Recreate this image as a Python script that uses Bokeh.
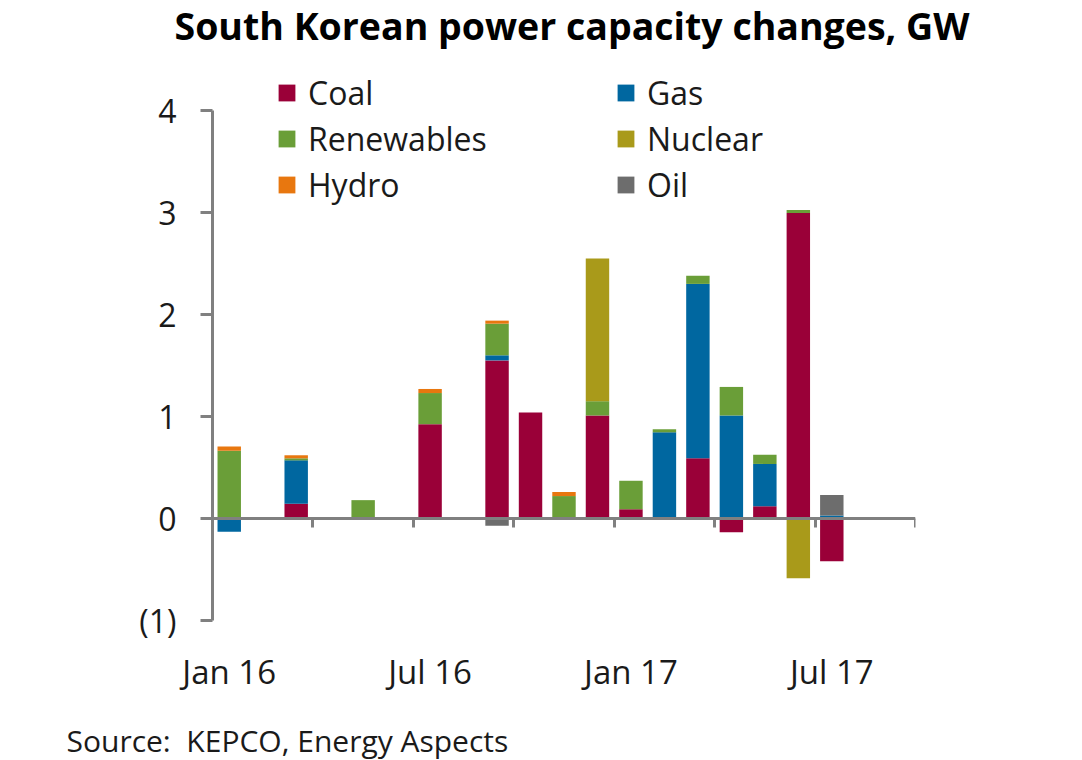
import numpy as np
from bokeh.plotting import figure
from bokeh.models import (LinearAxis, FixedTicker, Legend, LegendItem, Range1d,
                          Title, ColumnDataSource)
from bokeh.embed import file_html
from bokeh.resources import INLINE

# ---------------- data ----------------
months = ["Jan 16", "Feb 16", "Mar 16", "Apr 16", "May 16", "Jun 16", "Jul 16",
          "Aug 16", "Sep 16", "Oct 16", "Nov 16", "Dec 16", "Jan 17", "Feb 17",
          "Mar 17", "Apr 17", "May 17", "Jun 17", "Jul 17", "Aug 17", "Sep 17"]
tick_labels = ["Jan 16", "Jul 16", "Jan 17", "Jul 17"]
y_tick_values = [-1, 0, 1, 2, 3, 4]
y_tick_labels = ["(1)", "0", "1", "2", "3", "4"]

series = ["Coal", "Gas", "Renewables", "Nuclear", "Hydro", "Oil"]
coal       = [0.0, 0.0, 0.145, 0.0, 0.0, 0.0, 0.925, 0.0, 1.55, 1.04, 0.0, 1.01,
              0.09, 0.0, 0.59, -0.135, 0.12, 2.995, -0.42, 0.0, 0.0]
gas        = [-0.13, 0.0, 0.425, 0.0, 0.0, 0.0, 0.0, 0.0, 0.05, 0.0, 0.0, 0.0,
              0.0, 0.845, 1.71, 1.01, 0.415, 0.0, 0.03, 0.0, 0.0]
renewables = [0.665, 0.0, 0.02, 0.0, 0.18, 0.0, 0.305, 0.0, 0.31, 0.0, 0.22, 0.14,
              0.28, 0.03, 0.08, 0.28, 0.09, 0.03, 0.0, 0.0, 0.0]
nuclear    = [0.0, 0.0, 0.0, 0.0, 0.0, 0.0, 0.0, 0.0, 0.0, 0.0, 0.0, 1.40,
              0.0, 0.0, 0.0, 0.0, 0.0, -0.585, 0.0, 0.0, 0.0]
hydro      = [0.04, 0.0, 0.03, 0.0, 0.0, 0.0, 0.04, 0.0, 0.03, 0.0, 0.04, 0.0,
              0.0, 0.0, 0.0, 0.0, 0.0, 0.0, 0.0, 0.0, 0.0]
oil        = [0.0, 0.0, 0.0, 0.0, 0.0, 0.0, 0.0, 0.0, -0.07, 0.0, 0.0, 0.0,
              0.0, 0.0, 0.0, 0.0, 0.0, 0.0, 0.20, 0.0, 0.0]
colors = ["#9A0038", "#0067A0", "#6A9E38", "#A99A1A", "#E8770F", "#6D6D6D"]

FONT = "Open Sans"
AXIS_GREY = "#808080"
TEXT = "#1a1a1a"

# ---------------- stacking ----------------
vals = np.array([coal, gas, renewables, nuclear, hydro, oil])
x = np.arange(len(months))
pos = np.where(vals > 0, vals, 0.0)
neg = np.where(vals < 0, vals, 0.0)
pos_top = np.cumsum(pos, axis=0)
pos_bot = pos_top - pos
neg_end = np.cumsum(neg, axis=0)
neg_start = neg_end - neg

# ---------------- layout ----------------
FRAME_LEFT = 128          # frame starts left of the y axis so tick labels fit
AXIS_X = 212              # pixel position of the y axis (x = -0.5)
FRAME_RIGHT = 915
x_lo, x_hi = -0.5, len(months) - 0.5
px_per_month = (FRAME_RIGHT - AXIS_X) / (x_hi - x_lo)
x_start = x_lo - (AXIS_X - FRAME_LEFT) / px_per_month

p = figure(width=1066, height=760,
           x_range=Range1d(x_start, x_hi), y_range=Range1d(-1.951, 4.608),
           output_backend="svg", toolbar_location=None,
           min_border_left=FRAME_LEFT, min_border_right=1066 - FRAME_RIGHT,
           min_border_top=0, min_border_bottom=0)
p.outline_line_color = None
p.grid.visible = False
p.background_fill_color = "white"

renderers = {}
for i, name in enumerate(series):
    v = vals[i]
    m = v != 0
    top = np.where(v > 0, pos_top[i], neg_start[i])[m]
    bot = np.where(v > 0, pos_bot[i], neg_end[i])[m]
    src = ColumnDataSource(dict(x=x[m], top=top, bottom=bot))
    r = p.vbar(x="x", top="top", bottom="bottom", width=0.7, source=src,
               fill_color=colors[i], line_color=None)
    renderers[name] = r

# ---------------- axes ----------------
# zero line axis (ticks only)
xa = p.xaxis[0]
xa.fixed_location = 0
xa.bounds = (x_lo, x_hi)
xa.ticker = FixedTicker(ticks=list(np.arange(x_lo, len(months), 3)))
xa.axis_line_color = AXIS_GREY
xa.axis_line_width = 3
xa.major_tick_line_color = AXIS_GREY
xa.major_tick_line_width = 3
xa.major_tick_out = 9
xa.major_tick_in = 0
xa.minor_tick_line_color = None
xa.major_label_text_font_size = "1px"
xa.major_label_text_alpha = 0
xa.major_label_standoff = 0

# month label axis, pinned at y = -1
label_pos = [months.index(t) for t in tick_labels]
xl = LinearAxis(ticker=FixedTicker(ticks=label_pos), fixed_location=-1,
                major_label_overrides={k: t for k, t in zip(label_pos, tick_labels)})
xl.axis_line_color = None
xl.major_tick_line_color = None
xl.major_tick_out = 0
xl.major_tick_in = 0
xl.minor_tick_line_color = None
xl.major_label_text_font = FONT
xl.major_label_text_font_size = "33px"
xl.major_label_text_color = TEXT
xl.major_label_standoff = 28
p.add_layout(xl, "below")

ya = p.yaxis[0]
ya.fixed_location = x_lo
ya.ticker = FixedTicker(ticks=y_tick_values)
ya.major_label_overrides = {k: t for k, t in zip(y_tick_values, y_tick_labels)}
ya.bounds = (-1, 4)
ya.axis_line_color = AXIS_GREY
ya.axis_line_width = 3
ya.major_tick_line_color = AXIS_GREY
ya.major_tick_line_width = 3
ya.major_tick_out = 12
ya.major_tick_in = 0
ya.minor_tick_line_color = None
ya.major_label_text_font = FONT
ya.major_label_text_font_size = "32px"
ya.major_label_text_color = TEXT
ya.major_label_text_align = "right"
ya.major_label_standoff = 24

# ---------------- legend ----------------
order = ["Coal", "Renewables", "Hydro", "Gas", "Nuclear", "Oil"]
items = [LegendItem(label=n, renderers=[renderers[n]]) for n in order]
legend = Legend(items=items, orientation="vertical", nrows=3, ncols=2,
                location=(64 + AXIS_X - FRAME_LEFT, 511))
legend.border_line_color = None
legend.background_fill_alpha = 0
legend.padding = 0
legend.margin = 0
legend.glyph_width = 21
legend.glyph_height = 21
legend.label_standoff = 11
legend.label_width = 304
legend.spacing = 3
legend.label_text_font = FONT
legend.label_text_font_size = "32px"
legend.label_text_color = TEXT
p.add_layout(legend, "center")

# ---------------- titles ----------------
p.title = Title(text="South Korean power capacity changes, GW", align="left",
                offset=175 - FRAME_LEFT - 1, text_font=FONT, text_font_size="37.5px",
                text_font_style="bold", text_color="black", standoff=-5)
src_note = Title(text="Source:\u00a0 KEPCO, Energy Aspects", align="left",
                 offset=66 - FRAME_LEFT,
                 text_font=FONT, text_font_size="30px", text_font_style="normal",
                 text_color=TEXT, standoff=0)
p.add_layout(src_note, "below")

open("out.html", "w").write(file_html(p, INLINE))
